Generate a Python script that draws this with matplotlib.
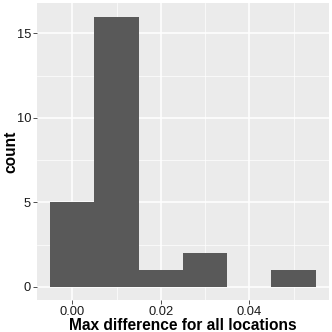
import matplotlib
matplotlib.use("Agg")
import matplotlib.pyplot as plt
import numpy as np

# histogram bins (centre of each bin) and counts
bin_centers = [0.00, 0.01, 0.02, 0.03, 0.04, 0.05]
counts = [5, 16, 1, 2, 0, 1]
bin_width = 0.01

plt.rcParams['font.family'] = ['Liberation Sans', 'DejaVu Sans']

fig = plt.figure(figsize=(3.32, 3.32), dpi=100)
ax = fig.add_axes([0.1114, 0.0949, 0.8795, 0.896])
ax.set_facecolor('#EBEBEB')

ax.bar(bin_centers, counts, width=bin_width, color='#595959', zorder=3)

ax.set_xlim(-0.008, 0.058)
ax.set_ylim(-0.8, 16.8)

ax.set_xticks([0.00, 0.02, 0.04])
ax.set_xticklabels(['0.00', '0.02', '0.04'])
ax.set_xticks([0.01, 0.03, 0.05], minor=True)
ax.set_yticks([0, 5, 10, 15])
ax.set_yticks([2.5, 7.5, 12.5], minor=True)

ax.grid(which='major', color='white', linewidth=1.1, zorder=0)
ax.grid(which='minor', color='white', linewidth=0.5, zorder=0)
ax.set_axisbelow(True)

for s in ax.spines.values():
    s.set_visible(False)

ax.tick_params(which='major', length=2.7, width=0.6, color='#333333',
               labelsize=9.3, labelcolor='#1a1a1a', pad=1.5)
ax.tick_params(which='minor', length=0)

ax.set_xlabel('Max difference for all locations', fontsize=11.2,
              fontweight='bold')
ax.set_ylabel('count', fontsize=11.2, fontweight='bold')
ax.xaxis.set_label_coords(0.5, -0.06)
ax.yaxis.set_label_coords(-0.064, 0.5)

fig.savefig('out.png', dpi=100)
